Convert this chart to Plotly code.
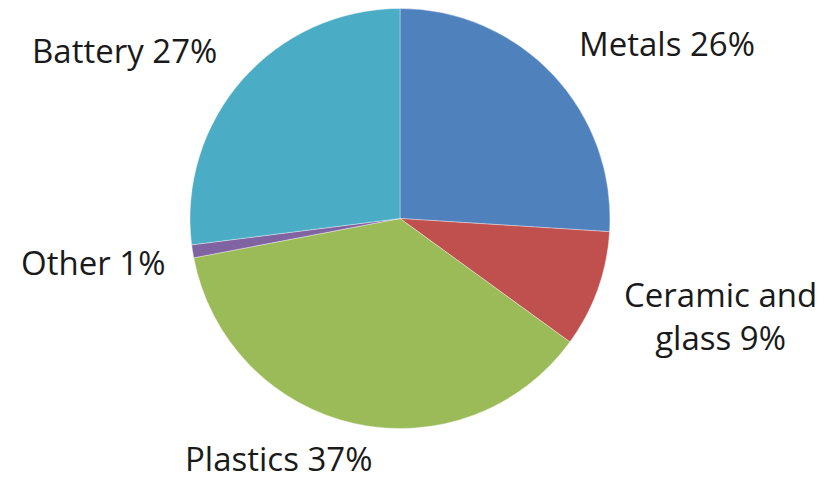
import plotly.graph_objects as go

categories = ["Metals", "Ceramic and glass", "Plastics", "Other", "Battery"]
values = [26, 9, 37, 1, 27]
colors = ["#4F81BD", "#C0504D", "#9BBB59", "#8064A2", "#4BACC6"]
label_texts = ["Metals 26%", "Ceramic and<br>glass 9%", "Plastics 37%", "Other 1%", "Battery 27%"]
# label centre positions (pixels) in the 832x481 canvas
label_px = [(667, 43), (720, 316), (278, 458), (93, 262), (124, 50)]

W, H = 832, 481

fig = go.Figure(go.Pie(
    labels=categories,
    values=values,
    sort=False,
    direction="clockwise",
    rotation=0,
    marker=dict(colors=colors, line=dict(color="rgba(255,255,255,0.45)", width=0.8)),
    textinfo="none",
    hoverinfo="label+percent",
    showlegend=False,
    domain=dict(x=[190 / W, 610 / W], y=[1 - 430 / H, 1 - 7 / H]),
))

for txt, (px, py) in zip(label_texts, label_px):
    fig.add_annotation(
        x=px / W, y=1 - py / H, xref="paper", yref="paper",
        text=txt, showarrow=False, xanchor="center", yanchor="middle",
        font=dict(family="Open Sans, sans-serif", size=33, color="#1a1a1a"),
        align="center", borderpad=0,
    )

fig.update_layout(
    width=W, height=H,
    margin=dict(l=0, r=0, t=0, b=0),
    paper_bgcolor="white",
    plot_bgcolor="white",
)

fig.write_html("out.html")
